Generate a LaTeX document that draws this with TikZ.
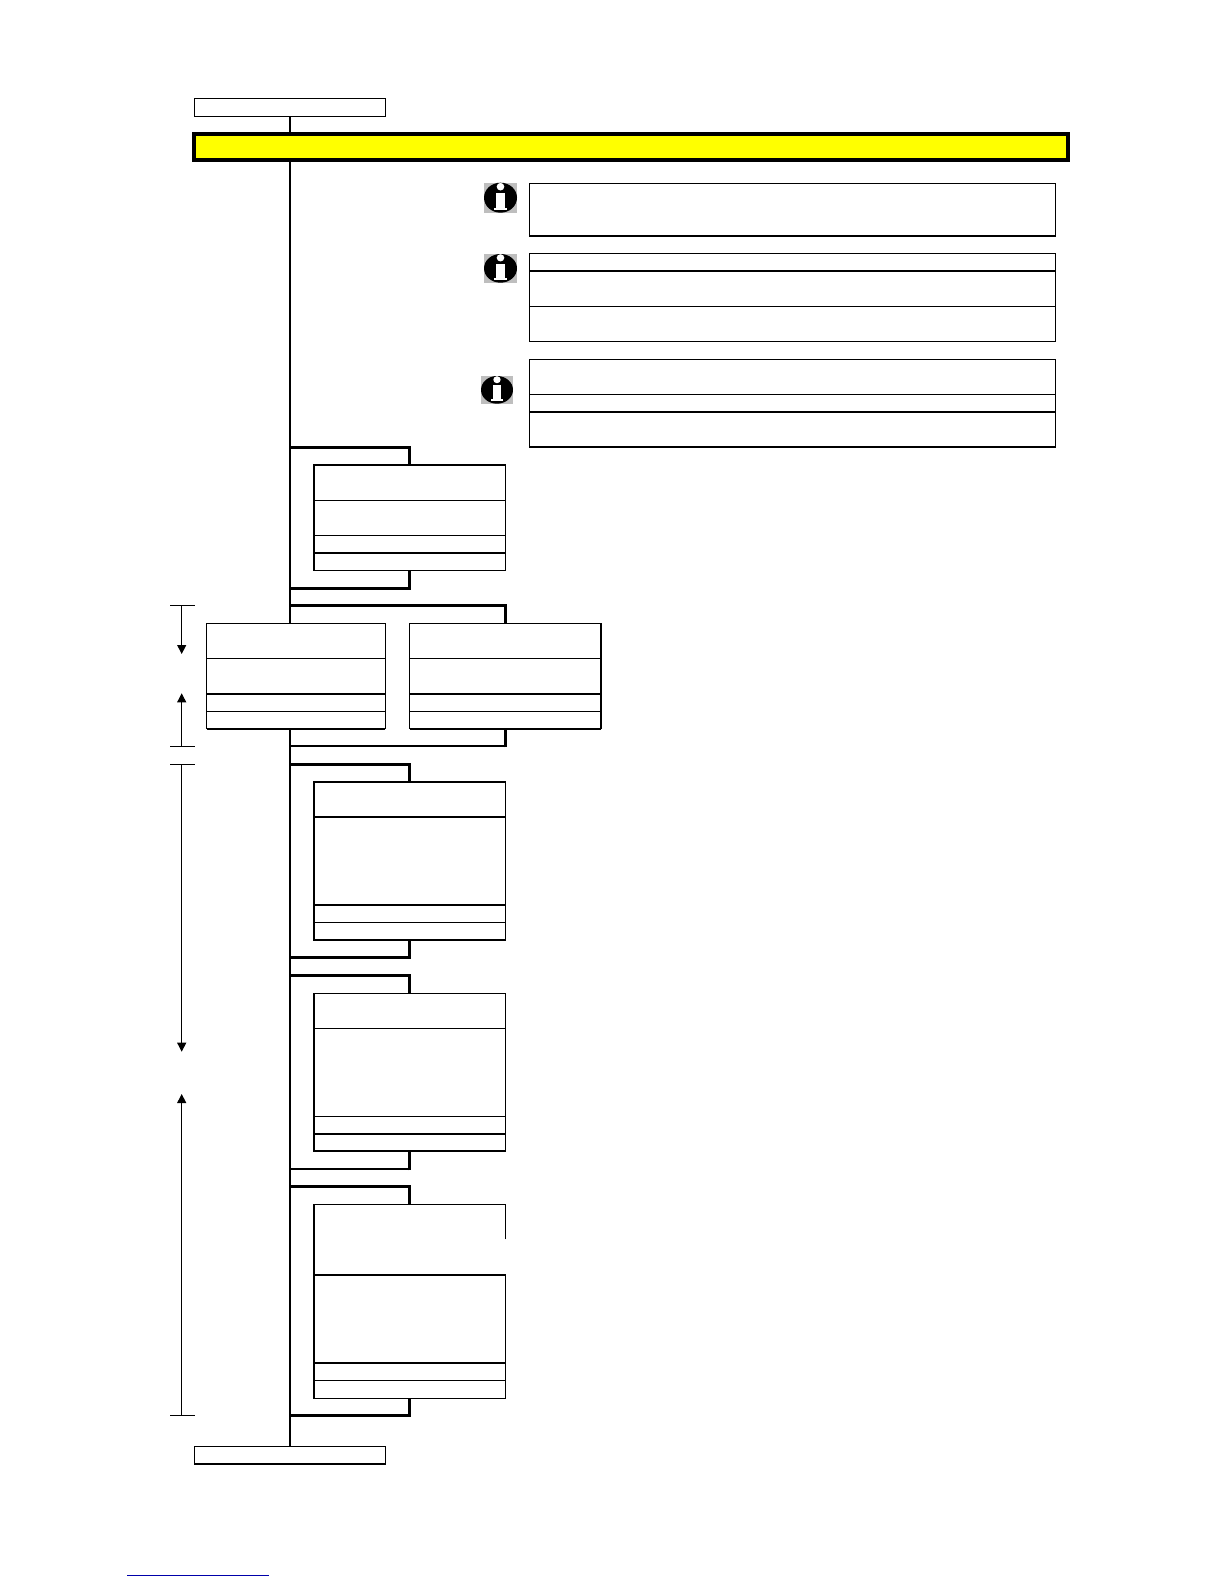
\documentclass[tikz,border=0pt]{standalone}
\usetikzlibrary{arrows.meta}
\definecolor{barYellow}{RGB}{255,255,0}
\definecolor{ruleBlue}{RGB}{0,0,170}
\definecolor{iconGrey}{RGB}{190,190,190}
\tikzset{
  x=1pt,y=-1pt,
  cell/.style={draw=black,line width=1.1pt,fill=white,inner sep=0pt,outer sep=0pt,anchor=north west},
  trunk/.style={draw=black,line width=2.1pt},
  link/.style={draw=black,line width=2.5pt},
  drop/.style={draw=black,line width=3pt},
  heavy/.style={draw=black,line width=2pt},
  dim/.style={draw=black,line width=1pt},
  dimarrow/.style={draw=black,line width=1pt,-{Triangle[length=9pt,width=9pt]}},
}
\newcommand{\cellbox}[5]{% name, x0, y0, x1, y1
  \node[cell,minimum width=#4pt-#2pt,minimum height=#5pt-#3pt] (#1) at (#2,#3) {};}
\newcommand{\infoicon}[5]{% name, x-left, y-top, width, height
  \begin{scope}[shift={(#2,#3)},x=#4pt/33,y=-#5pt/30]
    \fill[iconGrey] (0,0) rectangle (33,30);
    \fill[black] (16.5,15) ellipse [x radius=16.5,y radius=15];
    \fill[white] (12,10) rectangle (21,26);
    \fill[white] (10,25) rectangle (23,27.5);
    \fill[white] (16.5,4) circle (3.8);
    \coordinate (#1) at (16.5,15);
  \end{scope}}
\newcommand{\bracket}[2]{% junction on the trunk, target anchor
  \draw[link,shorten >=-1.5pt] (#1) -- (#1 -| #2);
  \draw[drop,shorten <=-1.25pt] (#1 -| #2) -- (#2);}
\newcommand{\edge}[2]{\draw[heavy] (#1) -- (#2);}
\begin{document}
\begin{tikzpicture}
\useasboundingbox (0,0) rectangle (1224,1584);
\fill[white] (0,0) rectangle (1224,1584);

% start and end terminals
\cellbox{start}{194.3}{98.3}{385.7}{116.3}
\cellbox{stop}{194.3}{1446.3}{385.7}{1463.5}
\edge{stop.south west}{stop.south east}

% trunk
\draw[trunk] (start.south) -- (stop.north);

% yellow bar
\node[draw=black,line width=4pt,fill=barYellow,inner sep=0pt,outer sep=0pt,anchor=north west,
      minimum width=874pt,minimum height=26pt] (bar) at (194,134) {};

% info icons
\infoicon{ia}{484}{182.7}{33}{30}
\infoicon{ib}{484}{254}{33}{28.7}
\infoicon{ic}{481}{376}{32}{27.7}

% info tables
\cellbox{n1}{529.3}{183.3}{1055.7}{236}
\edge{n1.south west}{n1.south east}
\cellbox{n2a}{529.3}{253.3}{1055.7}{271}
\cellbox{n2b}{529.3}{271}{1055.7}{306.3}
\cellbox{n2c}{529.3}{306.3}{1055.7}{341.3}
\cellbox{n3a}{529.3}{359.3}{1055.7}{394.3}
\cellbox{n3b}{529.3}{394.3}{1055.7}{411.7}
\cellbox{n3c}{529.3}{411.7}{1055.7}{447}
\edge{n3c.north west}{n3c.north east}

% junction coordinates on the trunk
\coordinate (jA1) at (290,447.7);
\coordinate (jA2) at (290,588.3);
\coordinate (jB1) at (290,605.3);
\coordinate (jB2) at (290,746);
\coordinate (jC1) at (290,764.7);
\coordinate (jC2) at (290,957.7);
\coordinate (jD1) at (290,975.7);
\coordinate (jD2) at (290,1169);
\coordinate (jE1) at (290,1186.7);
\coordinate (jE2) at (290,1415.3);

% box A
\cellbox{a1}{314}{465}{505.5}{500.3}
\cellbox{a2}{314}{500.3}{505.5}{535.3}
\cellbox{a3}{314}{535.3}{505.5}{552.7}
\cellbox{a4}{314}{552.7}{505.5}{570.3}
\edge{a1.north west}{a1.north east}
\edge{a4.north west}{a4.north east}
\edge{a1.north west}{a4.south west}
\bracket{jA1}{a1.north}
\bracket{jA2}{a4.south}

% pair B
\cellbox{b1}{206.7}{623.3}{385.3}{658.3}
\cellbox{b2}{206.7}{658.3}{385.3}{694}
\cellbox{b3}{206.7}{694}{385.3}{711.3}
\cellbox{b4}{206.7}{711.3}{385.3}{728.7}
\edge{b3.north west}{b3.north east}
\edge{b4.south west}{b4.south east}
\cellbox{c1}{409.7}{623.3}{601}{658.3}
\cellbox{c2}{409.7}{658.3}{601}{694}
\cellbox{c3}{409.7}{694}{601}{711.3}
\cellbox{c4}{409.7}{711.3}{601}{728.7}
\edge{c3.north west}{c3.north east}
\edge{c4.south west}{c4.south east}
\edge{c1.north east}{c4.south east}
\bracket{jB1}{c1.north}
\bracket{jB2}{c4.south}

% box C
\cellbox{d1}{314}{782}{505.5}{817}
\cellbox{d2}{314}{817}{505.5}{905}
\cellbox{d3}{314}{905}{505.5}{922.3}
\cellbox{d4}{314}{922.3}{505.5}{940}
\edge{d1.north west}{d1.north east}
\edge{d2.north west}{d2.north east}
\edge{d3.north west}{d3.north east}
\edge{d1.north west}{d4.south west}
\bracket{jC1}{d1.north}
\bracket{jC2}{d4.south}

% box D
\cellbox{e1}{314}{993.3}{505.5}{1028.3}
\cellbox{e2}{314}{1028.3}{505.5}{1116.3}
\cellbox{e3}{314}{1116.3}{505.5}{1134}
\cellbox{e4}{314}{1134}{505.5}{1151}
\edge{e4.north west}{e4.north east}
\edge{e1.north west}{e4.south west}
\bracket{jD1}{e1.north}
\bracket{jD2}{e4.south}

% box E (top cell open on the lower right)
\coordinate (f1nw) at (314,1204.3);
\coordinate (f1ne) at (505.5,1204.3);
\coordinate (f1sw) at (314,1275);
\coordinate (f1cut) at (505.5,1239.3);
\coordinate (f1n) at (409.75,1204.3);
\draw[line width=1.1pt] (f1cut) -- (f1ne) -- (f1nw) -- (f1sw);
\cellbox{f2}{314}{1275}{505.5}{1362.7}
\cellbox{f3}{314}{1362.7}{505.5}{1380.3}
\cellbox{f4}{314}{1380.3}{505.5}{1398.3}
\edge{f2.north west}{f2.north east}
\edge{f3.north west}{f3.north east}
\edge{f1nw}{f4.south west}
\bracket{jE1}{f1n}
\bracket{jE2}{f4.south}

% dimension arrows on the left
\coordinate (t1l) at (170,605.7); \coordinate (t1r) at (195,605.7);
\coordinate (t2l) at (170,746);   \coordinate (t2r) at (195,746);
\coordinate (t3l) at (170,764.3); \coordinate (t3r) at (195,764.3);
\coordinate (t4l) at (170,1415.3);\coordinate (t4r) at (195,1415.3);
\draw[dim] (t1l) -- (t1r);
\draw[dim] (t2l) -- (t2r);
\draw[dim] (t3l) -- (t3r);
\draw[dim] (t4l) -- (t4r);
\coordinate (a1s) at (181.7,605.7); \coordinate (a1e) at (181.7,654);
\coordinate (a2s) at (181.7,746);   \coordinate (a2e) at (181.7,693.3);
\coordinate (a3s) at (181.7,764.3); \coordinate (a3e) at (181.7,1051.7);
\coordinate (a4s) at (181.7,1415.3);\coordinate (a4e) at (181.7,1094);
\draw[dimarrow] (a1s) -- (a1e);
\draw[dimarrow] (a2s) -- (a2e);
\draw[dimarrow] (a3s) -- (a3e);
\draw[dimarrow] (a4s) -- (a4e);

% blue rule at the foot
\coordinate (ruleL) at (127,1575.3);
\coordinate (ruleR) at (269,1575.3);
\draw[line width=1pt,draw=ruleBlue] (ruleL) -- (ruleR);
\end{tikzpicture}
\end{document}
